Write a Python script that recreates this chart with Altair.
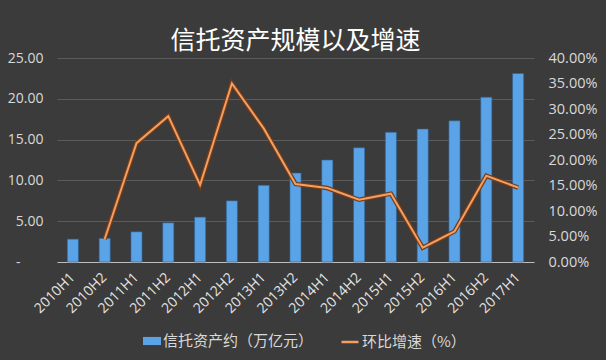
import altair as alt
import pandas as pd

# Half-year periods
periods = ["2010H1", "2010H2", "2011H1", "2011H2", "2012H1", "2012H2", "2013H1",
           "2013H2", "2014H1", "2014H2", "2015H1", "2015H2", "2016H1", "2016H2", "2017H1"]
# Trust assets (trillion yuan)
assets = [2.8, 2.9, 3.7, 4.8, 5.5, 7.5, 9.4, 10.9, 12.5, 14.0, 15.9, 16.3, 17.3, 20.2, 23.1]
# Half-on-half growth rate (fraction); none for the first period
growth = [None, 0.045, 0.233, 0.286, 0.151, 0.350, 0.262, 0.153, 0.145, 0.122,
          0.134, 0.028, 0.060, 0.169, 0.146]

bar_name = "信托资产约（万亿元）"
line_name = "环比增速（%）"

df = pd.DataFrame({"period": periods, "assets": assets, "growth": growth})
df["bar_series"] = bar_name
df["line_series"] = line_name

FONT = "Noto Sans CJK SC"
LABEL = "#d9d9d9"

x_enc = alt.X(
    "period:N", sort=periods, title=None,
    scale=alt.Scale(paddingInner=0.65, paddingOuter=0.325),
    axis=alt.Axis(labelAngle=-45, labelAlign="right", labelBaseline="middle",
                  labelColor="#e6e6e6", labelFontSize=14, labelFont="Open Sans",
                  labelPadding=13, ticks=False, domain=True, domainColor="#bdbdbd",
                  domainWidth=1, grid=False),
)

base = alt.Chart(df).encode(x=x_enc)

bars = base.mark_bar(stroke="#2f5f93", strokeWidth=0.6).encode(
    y=alt.Y("assets:Q", title=None,
            scale=alt.Scale(domain=[0, 25], nice=False),
            axis=alt.Axis(values=[0, 5, 10, 15, 20, 25],
                          labelExpr="datum.value == 0 ? '-' : format(datum.value, '.2f')",
                          labelPadding={"condition": {"test": "datum.value == 0", "value": 37},
                                        "value": 14},
                          labelColor=LABEL, labelFontSize=14, labelFont="Open Sans",
                          ticks=False, domain=False,
                          grid=True, gridColor="#5c5c5c", gridWidth=1)),
    color=alt.Color("bar_series:N", title=None,
                    scale=alt.Scale(domain=[bar_name], range=["#5aa3e6"]),
                    legend=alt.Legend(orient="none", legendX=86, legendY=274,
                                      symbolType="M-1,-0.45L1,-0.45L1,0.45L-1,0.45Z",
                                      symbolSize=324, symbolStrokeWidth=0,
                                      labelColor=LABEL, labelFontSize=15, labelFont=FONT,
                                      labelOffset=2, padding=0)),
)

y_right = alt.Y("growth:Q", title=None,
                scale=alt.Scale(domain=[0, 0.4], nice=False),
                axis=alt.Axis(orient="right", values=[0, 0.05, 0.1, 0.15, 0.2, 0.25, 0.3, 0.35, 0.4],
                              format=".2%", labelColor=LABEL, labelFontSize=14.5,
                              labelFont="Open Sans", labelPadding=14, ticks=False,
                              domain=False, grid=False))

growth_base = base.transform_filter("datum.growth != null")

line_shadow = growth_base.mark_line(
    color="#7a3c14", strokeWidth=4.5, strokeJoin="miter"
).encode(y=y_right)

line = growth_base.mark_line(strokeWidth=2, strokeJoin="miter").encode(
    y=y_right,
    stroke=alt.Stroke("line_series:N", title=None,
                      scale=alt.Scale(domain=[line_name], range=["#f0a066"]),
                      legend=alt.Legend(orient="none", legendX=283, legendY=274,
                                        symbolType="stroke", symbolSize=289,
                                        symbolStrokeWidth=2.5,
                                        labelColor=LABEL, labelFontSize=15, labelFont=FONT,
                                        labelOffset=2, padding=0)),
)

right = alt.layer(line_shadow, line)

chart = alt.layer(bars, right).resolve_scale(y="independent").properties(
    width=477,
    height=204,
    padding={"left": 57, "top": 58, "right": 72, "bottom": 98},
    autosize=alt.AutoSizeParams(type="none"),
    background="#3b3b3b",
    title=alt.TitleParams("信托资产规模以及增速", color="#ffffff", fontSize=25,
                          font=FONT, fontWeight="normal", anchor="middle",
                          frame="group", offset=-4),
).configure_view(stroke=None)

chart.save("out.html", embed_options={"renderer": "svg", "actions": False})
